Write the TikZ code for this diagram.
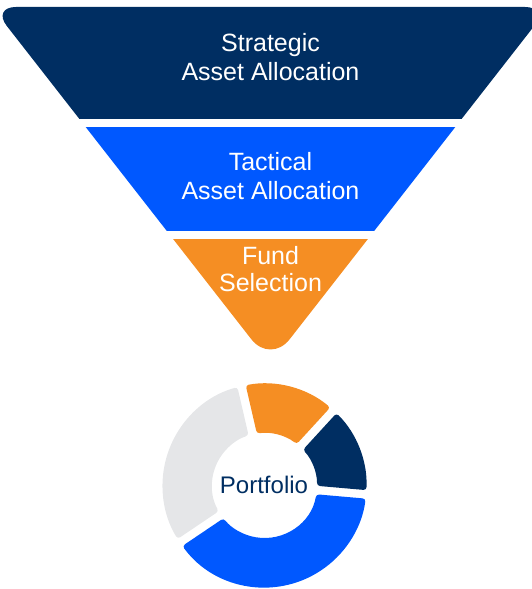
\documentclass[tikz,border=0pt]{standalone}
\usepackage{fontspec}
\setmainfont{Liberation Sans}
\definecolor{navyC}{RGB}{0,46,98}
\definecolor{blueC}{RGB}{0,88,255}
\definecolor{orangeC}{RGB}{245,142,35}
\definecolor{greyC}{RGB}{229,230,232}
\begin{document}
\begin{tikzpicture}[x=1pt,y=1pt,
  bandtext/.style={text=white, align=center, inner sep=0pt, font=\fontsize{25}{29}\selectfont},
  seg/.style={rounded corners=3pt}]
\useasboundingbox (0,0) rectangle (532,589);
\clip (0,0) rectangle (532,589);
% --- funnel bands (one big rounded triangle, cut into bands) ---
\begin{scope}
  \clip (-20,470) rectangle (560,600);
  \fill[navyC, rounded corners=24pt] (270.5,225.2) -- (-8,582) -- (549,582) -- cycle;
\end{scope}
\begin{scope}
  \clip (-20,358.9) rectangle (560,461.7);
  \fill[blueC] (270.5,225.2) -- (-8,582) -- (549,582) -- cycle;
\end{scope}
\begin{scope}
  \clip (-20,200) rectangle (560,349.7);
  \fill[orangeC, rounded corners=31pt] (-8,582) -- (549,582) -- (270.5,225.2) -- cycle;
\end{scope}
\node[bandtext] (sa) at (270.5,532.3) {Strategic\\Asset Allocation};
\node[bandtext] (ta) at (270.5,412.8) {Tactical\\Asset Allocation};
\node[bandtext, font=\fontsize{25}{26.7}\selectfont] (fs) at (270.5,319.8) {Fund\\Selection};
% --- portfolio donut ---
\begin{scope}[shift={(264.5,103.5)}]
  \fill[orangeC, seg] (49.89:102) arc[start angle=49.89, end angle=100.61, radius=102]
     -- (98.36:52.5) arc[start angle=98.36, end angle=52.14, radius=52.5] -- cycle;
  \fill[navyC, seg] (-2.61:102) arc[start angle=-2.61, end angle=45.11, radius=102]
     -- (42.86:52.5) arc[start angle=42.86, end angle=-0.36, radius=52.5] -- cycle;
  \fill[blueC, seg] (216.39:102) arc[start angle=216.39, end angle=352.61, radius=102]
     -- (350.36:52.5) arc[start angle=350.36, end angle=218.64, radius=52.5] -- cycle;
  \fill[greyC, seg] (105.39:102) arc[start angle=105.39, end angle=211.61, radius=102]
     -- (209.36:52.5) arc[start angle=209.36, end angle=107.64, radius=52.5] -- cycle;
  \node[text=navyC, anchor=base, inner sep=0pt, font=\fontsize{24}{28}\selectfont] (pf) at (-0.5,-8.5) {Portfolio};
\end{scope}
\end{tikzpicture}
\end{document}
